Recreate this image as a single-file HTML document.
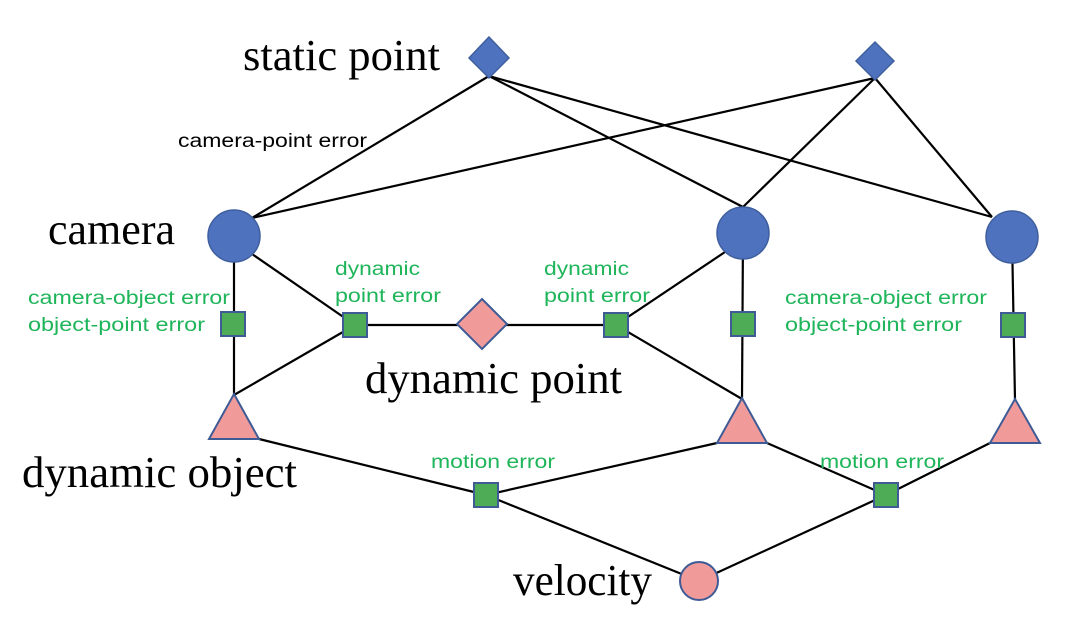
<!DOCTYPE html>
<html><head><meta charset="utf-8"><style>
body{margin:0;background:#fff;}
svg{display:block}
.s{font-family:"Liberation Serif",serif;font-size:44px;fill:#000}
.g{font-family:"Liberation Sans",sans-serif;font-size:19px;fill:#1fb55a}
.k{font-family:"Liberation Sans",sans-serif;font-size:19px;fill:#000}
</style></head><body>
<svg width="1080" height="636" viewBox="0 0 1080 636" xmlns="http://www.w3.org/2000/svg">
<g stroke="#000" stroke-width="2.2" fill="none">
<line x1="489" y1="76" x2="252" y2="218"/>
<line x1="489" y1="76" x2="743" y2="207"/>
<line x1="489" y1="76" x2="992" y2="217"/>
<line x1="875" y1="78" x2="252" y2="218"/>
<line x1="875" y1="78" x2="743" y2="207"/>
<line x1="875" y1="78" x2="992" y2="217"/>
<line x1="234" y1="236" x2="234" y2="395"/>
<line x1="252" y1="254" x2="355" y2="325"/>
<line x1="355" y1="325" x2="234" y2="395"/>
<line x1="355" y1="325" x2="616" y2="325"/>
<line x1="616" y1="325" x2="725" y2="252"/>
<line x1="616" y1="325" x2="742" y2="399"/>
<line x1="743" y1="233" x2="742" y2="399"/>
<line x1="1012" y1="237" x2="1015" y2="400"/>
<line x1="259" y1="439" x2="486" y2="495"/>
<line x1="486" y1="495" x2="717" y2="443"/>
<line x1="767" y1="443" x2="886" y2="495"/>
<line x1="886" y1="495" x2="990" y2="443"/>
<line x1="486" y1="495" x2="699" y2="581"/>
<line x1="699" y1="581" x2="886" y2="495"/>
</g>
<g fill="#4e72be" stroke="#3f5f9f" stroke-width="1.5">
<polygon points="489,37 509,58 489,78 469,58"/>
<polygon points="875,42 894,61 875,80 856,61"/>
<circle cx="234" cy="236" r="26"/>
<circle cx="743" cy="233" r="26"/>
<circle cx="1012" cy="237" r="26"/>
</g>
<g fill="#f09b9a" stroke="#3f5b96" stroke-width="2">
<polygon points="482,299 507,324 482,349 457,324"/>
<polygon points="234,394 259,439 209,439"/>
<polygon points="742,398 767,443 717,443"/>
<polygon points="1015,399 1040,443 990,443"/>
<circle cx="699" cy="581" r="19"/>
</g>
<g fill="#4eab56" stroke="#3f5b96" stroke-width="2">
<rect x="221" y="312" width="24" height="24"/>
<rect x="343" y="313" width="24" height="24"/>
<rect x="604" y="313" width="24" height="24"/>
<rect x="731" y="312" width="24" height="24"/>
<rect x="1001" y="313" width="24" height="24"/>
<rect x="474" y="483" width="24" height="24"/>
<rect x="874" y="483" width="24" height="24"/>
</g>
<text class="s" x="243" y="70" textLength="197" lengthAdjust="spacingAndGlyphs">static point</text>
<text class="s" x="48" y="244" textLength="127" lengthAdjust="spacingAndGlyphs">camera</text>
<text class="s" x="365" y="393" textLength="257" lengthAdjust="spacingAndGlyphs">dynamic point</text>
<text class="s" x="22" y="487" textLength="275" lengthAdjust="spacingAndGlyphs">dynamic object</text>
<text class="s" x="513" y="595" textLength="139" lengthAdjust="spacingAndGlyphs">velocity</text>
<text class="k" x="178" y="147" textLength="189" lengthAdjust="spacingAndGlyphs">camera-point error</text>
<text class="g" x="28" y="304" textLength="202" lengthAdjust="spacingAndGlyphs">camera-object error</text>
<text class="g" x="28" y="331" textLength="177" lengthAdjust="spacingAndGlyphs">object-point error</text>
<text class="g" x="335" y="275" textLength="85" lengthAdjust="spacingAndGlyphs">dynamic</text>
<text class="g" x="335" y="302" textLength="106" lengthAdjust="spacingAndGlyphs">point error</text>
<text class="g" x="544" y="275" textLength="85" lengthAdjust="spacingAndGlyphs">dynamic</text>
<text class="g" x="544" y="302" textLength="106" lengthAdjust="spacingAndGlyphs">point error</text>
<text class="g" x="785" y="304" textLength="202" lengthAdjust="spacingAndGlyphs">camera-object error</text>
<text class="g" x="785" y="331" textLength="177" lengthAdjust="spacingAndGlyphs">object-point error</text>
<text class="g" x="431" y="468" textLength="124" lengthAdjust="spacingAndGlyphs">motion error</text>
<text class="g" x="820" y="468" textLength="124" lengthAdjust="spacingAndGlyphs">motion error</text>
</svg>
</body></html>
